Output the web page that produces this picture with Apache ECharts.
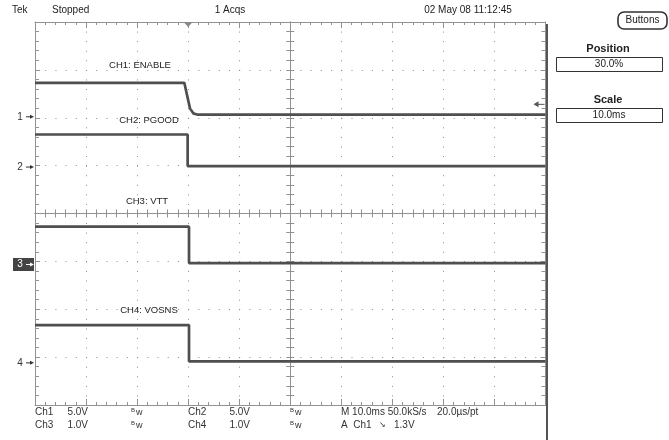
<!DOCTYPE html>
<html><head><meta charset="utf-8">
<script src="https://cdn.jsdelivr.net/npm/echarts@6/dist/echarts.min.js"></script>
<style>html,body{margin:0;padding:0;background:#fff}#c{width:669px;height:440px}</style>
</head><body><div id="c"></div>
<script>
// ---- data (time in ms relative to trigger, amplitude in volts) ----
const timeMin = -30, timeMax = 70, timeDiv = 10;          // 10.0ms/div, 30% position
const ch1Time = [-30, -0.75, 0.36, 1.0, 1.93, 70];
const ch1Volt = [3.55, 3.55, 0.88, 0.36, 0.22, 0.22];
const ch2Time = [-30, -0.1, -0.1, 70];
const ch2Volt = [3.4, 3.4, 0.1, 0.1];
const ch3Time = [-30, 0.17, 0.17, 70];
const ch3Volt = [0.79, 0.79, 0.03, 0.03];
const ch4Time = [-30, 0.17, 0.17, 70];
const ch4Volt = [0.79, 0.79, 0.03, 0.03];
const chVoltsPerDiv = [5, 5, 1, 1];
const chOffsetDiv = [2.02, 0.97, -1.065, -3.12];
const chNames = ['CH1: ENABLE', 'CH2: PGOOD', 'CH3: VTT', 'CH4: VOSNS'];
const triggerLevel = 1.3;   // volts on Ch1

const chTimes = [ch1Time, ch2Time, ch3Time, ch4Time];
const chVolts = [ch1Volt, ch2Volt, ch3Volt, ch4Volt];

const FONT = '"Liberation Sans", Arial, sans-serif';
const GRID = {left: 35, top: 22, width: 510.5, height: 383};
const gridCol = '#929292';

function borderX(pos) {
  return {type: 'value', position: pos, min: timeMin, max: timeMax, interval: timeDiv,
    axisLine: {show: true, onZero: false, lineStyle: {color: gridCol, width: 1}},
    axisTick: {show: true, inside: true, length: 6, lineStyle: {color: gridCol}},
    minorTick: {show: true, splitNumber: 5, length: 3, lineStyle: {color: gridCol}},
    axisLabel: {show: false},
    splitLine: {show: pos === 'bottom', lineStyle: {color: '#8c8c8c', width: 1, type: [1, 8.575]}}};
}
function centerX(inside) {
  return {type: 'value', position: 'bottom', min: timeMin, max: timeMax, interval: timeDiv,
    axisLine: {show: true, onZero: true, onZeroAxisIndex: 0, lineStyle: {color: gridCol, width: 1}},
    axisTick: {show: true, inside: inside, length: 4, lineStyle: {color: gridCol}},
    minorTick: {show: true, splitNumber: 5, length: 4, lineStyle: {color: gridCol}},
    axisLabel: {show: false}, splitLine: {show: false}};
}
function borderY(pos) {
  return {type: 'value', position: pos, min: -4, max: 4, interval: 1,
    axisLine: {show: true, onZero: false, lineStyle: {color: gridCol, width: 1}},
    axisTick: {show: true, inside: true, length: 5, lineStyle: {color: gridCol}},
    minorTick: {show: true, splitNumber: 5, length: 4, lineStyle: {color: gridCol}},
    axisLabel: {show: false},
    splitLine: {show: pos === 'left', lineStyle: {color: '#8c8c8c', width: 1, type: [1, 9.21]}}};
}
function centerY(inside) {
  return {type: 'value', position: 'left', min: -4, max: 4, interval: 1,
    axisLine: {show: true, onZero: true, onZeroAxisIndex: 4, lineStyle: {color: gridCol, width: 1}},
    axisTick: {show: true, inside: inside, length: 4, lineStyle: {color: gridCol}},
    minorTick: {show: true, splitNumber: 5, length: 4, lineStyle: {color: gridCol}},
    axisLabel: {show: false}, splitLine: {show: false}};
}
const chAxes = chVoltsPerDiv.map((vpd, i) => ({
  type: 'value', show: false, position: 'left',
  min: (-4 - chOffsetDiv[i]) * vpd, max: (4 - chOffsetDiv[i]) * vpd,
  axisLine: {onZero: false}
}));

const series = chTimes.map((ts, i) => ({
  type: 'line', xAxisIndex: 0, yAxisIndex: 4 + i, showSymbol: false, animation: false,
  data: ts.map((t, k) => [t, chVolts[i][k]]),
  lineStyle: {color: '#4f4f4f', width: 2.7}, z: 5
}));

const txt = (text, x, y, opt = {}) => ({type: 'text', x, y, z: 20, silent: true,
  style: Object.assign({text, fill: '#222', font: '10px ' + FONT, align: 'left', verticalAlign: 'middle'}, opt)});

const staticGraphic = [
  txt('Tek', 12, 10),
  txt('Stopped', 52, 10),
  txt('1 Acqs', 230, 10, {align: 'center'}),
  txt('02 May 08 11:12:45', 468, 10, {align: 'center'}),
  // right panel
  {type: 'line', z: 15, shape: {x1: 547, y1: 24, x2: 547, y2: 440}, style: {stroke: '#555', lineWidth: 2}},
  {type: 'rect', z: 15, shape: {x: 618, y: 12, width: 49, height: 17, r: 6}, style: {fill: '#fff', stroke: '#333', lineWidth: 1.6}},
  txt('Buttons', 642.5, 20.5, {align: 'center', font: '10px ' + FONT}),
  txt('Position', 608, 49, {align: 'center', font: 'bold 11px ' + FONT}),
  {type: 'rect', z: 15, shape: {x: 556.5, y: 57.5, width: 106, height: 14}, style: {fill: '#fff', stroke: '#333', lineWidth: 1}},
  txt('30.0%', 609, 64.5, {align: 'center'}),
  txt('Scale', 608, 100, {align: 'center', font: 'bold 11px ' + FONT}),
  {type: 'rect', z: 15, shape: {x: 556.5, y: 108.5, width: 106, height: 14}, style: {fill: '#fff', stroke: '#333', lineWidth: 1}},
  txt('10.0ms', 609, 115.5, {align: 'center'}),
  // bottom readout
  txt('Ch1', 35, 412, {fill: '#333'}), txt('5.0V', 88, 412, {align: 'right', fill: '#333'}),
  txt('B', 131, 410, {font: '6px ' + FONT, fill: '#333'}), txt('w', 136, 413, {font: '9px ' + FONT, fill: '#333'}),
  txt('Ch2', 188, 412, {fill: '#333'}), txt('5.0V', 250, 412, {align: 'right', fill: '#333'}),
  txt('B', 290, 410, {font: '6px ' + FONT, fill: '#333'}), txt('w', 295, 413, {font: '9px ' + FONT, fill: '#333'}),
  txt('M 10.0ms 50.0kS/s', 341, 412, {fill: '#333'}),
  txt('20.0\u00b5s/pt', 437, 412, {fill: '#333'}),
  txt('Ch3', 35, 425, {fill: '#333'}), txt('1.0V', 88, 425, {align: 'right', fill: '#333'}),
  txt('B', 131, 423, {font: '6px ' + FONT, fill: '#333'}), txt('w', 136, 426, {font: '9px ' + FONT, fill: '#333'}),
  txt('Ch4', 188, 425, {fill: '#333'}), txt('1.0V', 250, 425, {align: 'right', fill: '#333'}),
  txt('B', 290, 423, {font: '6px ' + FONT, fill: '#333'}), txt('w', 295, 426, {font: '9px ' + FONT, fill: '#333'}),
  txt('A  Ch1', 341, 425, {fill: '#333'}),
  txt('\u2198', 379, 425, {fill: '#333', font: '8px ' + FONT}),
  txt('1.3V', 394, 425, {fill: '#333'}),
  // channel captions
  txt(chNames[0], 140, 65, {align: 'center', fill: '#222', font: '9.5px ' + FONT}),
  txt(chNames[1], 149, 120, {align: 'center', fill: '#222', font: '9.5px ' + FONT}),
  txt(chNames[2], 147, 201, {align: 'center', fill: '#222', font: '9.5px ' + FONT}),
  txt(chNames[3], 149, 310, {align: 'center', fill: '#222', font: '9.5px ' + FONT})
];

const chart = echarts.init(document.getElementById('c'), null, {renderer: 'canvas'});
const option = {
  animation: false,
  backgroundColor: '#fff',
  grid: GRID,
  xAxis: [borderX('bottom'), borderX('top'), centerX(true), centerX(false),
    {type: 'value', show: false, position: 'bottom', min: -50, max: 50, axisLine: {onZero: false}}],
  yAxis: [borderY('left'), borderY('right'), centerY(true), centerY(false)].concat(chAxes),
  series: series,
  graphic: staticGraphic
};
chart.setOption(option);

// markers placed through the axes' scales
const extra = [];
chVoltsPerDiv.forEach((vpd, i) => {
  const gy = chart.convertToPixel({xAxisIndex: 0, yAxisIndex: 4 + i}, [timeMin, 0])[1];
  if (i === 2) {
    extra.push({type: 'rect', z: 18, shape: {x: 13, y: gy - 6.5, width: 21, height: 13}, style: {fill: '#444'}});
  }
  const col = i === 2 ? '#fff' : '#333';
  extra.push(txt(String(i + 1), 20, gy, {align: 'center', fill: col, font: '10px ' + FONT}));
  extra.push({type: 'line', z: 20, shape: {x1: 26, y1: gy, x2: 31, y2: gy}, style: {stroke: col, lineWidth: 1}});
  extra.push({type: 'polygon', z: 20, shape: {points: [[30, gy - 2], [34, gy], [30, gy + 2]]}, style: {fill: col}});
});
// trigger position (t = 0) on the top border
const tp = chart.convertToPixel({xAxisIndex: 0, yAxisIndex: 0}, [0, 4]);
extra.push({type: 'polygon', z: 20, shape: {points: [[tp[0] - 4.5, tp[1]], [tp[0] + 4.5, tp[1]], [tp[0], tp[1] + 5]]}, style: {fill: '#888'}});
// trigger level arrow on the right edge
const tl = chart.convertToPixel({xAxisIndex: 0, yAxisIndex: 4}, [timeMax, triggerLevel]);
extra.push({type: 'line', z: 20, shape: {x1: tl[0] - 10, y1: tl[1], x2: tl[0] - 1, y2: tl[1]}, style: {stroke: '#555', lineWidth: 1}});
extra.push({type: 'polygon', z: 20, shape: {points: [[tl[0] - 12, tl[1]], [tl[0] - 7, tl[1] - 3], [tl[0] - 7, tl[1] + 3]]}, style: {fill: '#555'}});

chart.setOption({graphic: staticGraphic.concat(extra)});
</script>
</body></html>
